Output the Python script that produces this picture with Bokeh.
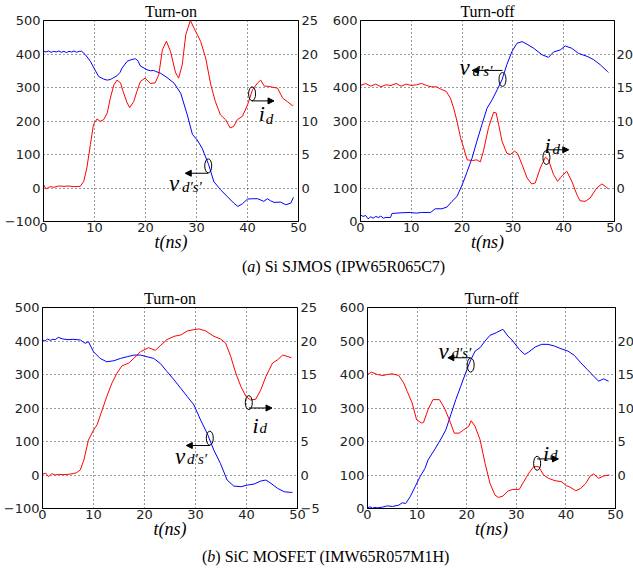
from bokeh.plotting import figure
from bokeh.models import Range1d, LinearAxis, FixedTicker, Label, Arrow, NormalHead, Div
from bokeh.layouts import column, row
from bokeh.embed import file_html
from bokeh.resources import INLINE

# ---------------- data ----------------
x_ticks = [0, 10, 20, 30, 40, 50]

# (a) Si SJMOS, turn-on
a_on_tv = [0, 0.5, 1, 1.5, 2, 2.5, 3, 3.5, 4, 4.5, 5, 5.5, 6, 6.5, 7, 7.5, 8.2, 9.2, 10, 10.8, 11.8, 12.5,
           13.1, 13.6, 14.4, 15, 15.4, 16.4, 17, 18, 18.5, 19, 20.3, 21, 21.6, 22, 22.9, 24.2, 25.6, 26.9,
           28.2, 29.2, 30.1, 31.1, 32.4, 33.4, 34.7, 36, 37.3, 38.1, 39, 40, 41, 42, 42.6, 43.2, 43.9, 44.5,
           45.2, 46.5, 47.5, 48.5, 49]
a_on_v = [408, 406, 409, 405, 408, 406, 409, 405, 408, 404, 408, 406, 409, 405, 408, 408, 398, 378, 355, 333,
          325, 322, 324, 328, 335, 345, 358, 378, 382, 386, 380, 364, 353, 350, 351, 348, 343, 330, 313, 283,
          218, 160, 144, 119, 69, 19, -5, -25, -45, -55, -47, -33, -32, -32, -36, -40, -32, -38, -43, -42,
          -50, -45, -28]
a_on_ti = [0, 0.5, 1, 1.5, 2, 3, 4, 5, 6, 7.2, 7.9, 8.5, 9.2, 9.8, 10.5, 11.1, 11.8, 12.5, 13.1, 13.8, 14.4,
           15.1, 15.7, 16.4, 16.9, 17.7, 18.3, 19, 19.9, 21, 21.9, 22.6, 23.3, 24.1, 24.9, 25.9, 26.5, 27.2,
           27.9, 28.8, 29.5, 30.8, 31.8, 32.8, 33.7, 34.7, 35.7, 36.6, 37.3, 38, 39, 40, 41, 42, 42.6, 43.3,
           43.9, 45.9, 46.9, 47.8, 48.8, 49]
a_on_i = [0.5, -0.15, 0.1, 0.2, 0.1, 0.3, 0.25, 0.3, 0.2, 0.25, 1.0, 3.0, 6.5, 9.5, 10.3, 9.95, 10.2, 11.2,
          13.4, 15.4, 16.1, 15.7, 14.2, 12.7, 12.0, 12.9, 14.4, 15.9, 16.4, 15.6, 15.7, 16.9, 20.6, 21.9,
          20.4, 17.2, 16.4, 18.4, 22.9, 25.0, 23.9, 21.9, 19.4, 15.4, 12.9, 10.9, 10.2, 8.96, 9.2, 10.2,
          10.7, 12.4, 14.7, 15.7, 16.1, 15.2, 15.2, 14.9, 13.4, 12.9, 12.3, 12.4]

# (a) Si SJMOS, turn-off
a_off_tv = [0, 0.5, 1, 1.5, 2, 2.5, 3, 3.5, 4, 4.5, 5, 5.9, 6.2, 8, 9.8, 11, 12, 13.8, 14.7, 16, 17, 18, 19,
            20, 21, 21.95, 22.9, 23.9, 24.9, 25.9, 26.9, 27.85, 28.8, 29.8, 30.8, 31.8, 32.8, 34.1, 35.7, 37,
            38, 39.3, 40.3, 41.6, 42.9, 44.6, 45.9, 47.2, 48.6, 48.8]
a_off_v = [20, 15, 18, 8, 14, 10, 15, 12, 16, 10, 12, 12, 24, 26, 27, 25, 27, 27, 38, 38, 43, 60, 75, 109,
           149, 189, 239, 289, 338, 363, 393, 423, 468, 507, 532, 537, 529, 517, 498, 490, 506, 512, 524,
           517, 502, 493, 483, 468, 448, 445]
a_off_ti = [0, 1, 2, 3, 4, 5, 6, 7, 8, 9, 10, 11, 12, 13, 14, 15, 15.7, 16.9, 17.7, 18.35, 19, 19.7, 20.3,
            21, 22, 22.9, 23.6, 24.2, 25.2, 26.2, 26.7, 27.2, 27.85, 28.8, 29.5, 30.3, 30.9, 31.8, 32.8,
            33.7, 34.4, 35.4, 36.4, 37, 38, 38.8, 39.4, 40.6, 41.6, 42.6, 43.2, 44.2, 45.2, 46.5, 47.5,
            48.2, 48.8]
a_off_i = [15.3, 15.6, 15.2, 15.5, 15.1, 15.4, 15.3, 15.6, 15.2, 15.5, 15.3, 15.4, 15.6, 15.3, 15.1, 15.1,
           14.8, 14.4, 13.4, 11.9, 9.95, 7.5, 6.0, 4.2, 4.1, 4.2, 3.9, 5.5, 9.0, 11.3, 11.2, 9.45, 7.0, 5.2,
           5.0, 5.5, 5.2, 3.5, 1.5, 0.6, 0.75, 3.0, 4.6, 4.2, 2.0, 1.0, 1.6, 2.5, 1.0, -1.0, -1.9, -2.0,
           -1.5, 0, 0.6, 0.25, -0.15]

# (b) SiC MOSFET, turn-on
b_on_tv = [0, 0.5, 1, 1.5, 2, 2.5, 3.1, 4, 5, 6, 7.4, 8.4, 9, 10, 11.3, 12.6, 14, 15.3, 16.6, 17.9, 19.2,
           20.5, 21.8, 23.1, 24.4, 25.8, 27.1, 28.4, 29.7, 31, 32.3, 33.6, 34.9, 36.2, 37.5, 38.9, 40.2,
           41.5, 42.8, 43.8, 44.8, 46.1, 47.4, 48.7, 49]
b_on_v = [403, 400, 406, 402, 405, 404, 411, 406, 404, 405, 403, 393, 398, 368, 348, 338, 341, 348, 353, 358,
          358, 353, 348, 333, 309, 284, 259, 234, 209, 164, 124, 74, 34, -15, -33, -35, -30, -27, -18, -15,
          -25, -40, -50, -52, -52]
b_on_ti = [0, 0.6, 1.2, 1.8, 2.5, 3.2, 4, 5, 6, 6.7, 7.4, 8.1, 9, 10, 10.7, 11.7, 12.6, 13.6, 14.6, 15.6,
           16.9, 17.9, 19.2, 20.8, 22.1, 23.1, 24.4, 25.8, 27.1, 28.4, 29.7, 30.7, 32, 33.6, 34.9, 35.9,
           36.9, 37.9, 38.9, 39.9, 40.8, 41.8, 42.8, 43.8, 45.1, 46.1, 47.1, 48, 48.8]
b_on_i = [0.1, 0.3, -0.25, 0.2, 0, 0.1, 0.05, 0.1, 0.2, 0.35, 0.75, 2.2, 5.2, 6.7, 7.5, 9.7, 11.7, 13.7,
          15.2, 16.3, 16.7, 17.4, 18.4, 19.0, 18.6, 19.3, 20.2, 20.7, 20.9, 21.5, 21.7, 21.8, 21.5, 20.7,
          20.3, 19.7, 17.7, 15.2, 13.2, 11.7, 11.2, 11.3, 12.7, 14.7, 16.7, 17.2, 17.9, 17.7, 17.5]

# (b) SiC MOSFET, turn-off
b_off_tv = [0, 0.5, 1, 1.5, 2, 3, 4, 5, 6.3, 7, 7.7, 8.6, 9.6, 10.6, 11.6, 12.2, 13.5, 14.9, 15.8, 16.8,
            17.8, 18.8, 19.8, 20.7, 21.7, 22.7, 23.7, 24.7, 26, 27.3, 28.3, 29.3, 30.6, 31.7, 32.5, 33.8,
            35.1, 36.4, 37.7, 39, 40.4, 41.7, 43, 44.3, 45.6, 46.6, 47.6, 48.6]
b_off_v = [2, 5, 1, 3, 2, 4, 8, 6, 10, 17, 15, 35, 65, 95, 120, 145, 175, 210, 235, 280, 325, 365, 405, 440,
           470, 480, 500, 517, 525, 535, 515, 500, 475, 460, 467, 482, 490, 490, 485, 477, 470, 457, 435,
           415, 395, 380, 387, 380]
b_off_ti = [0, 0.8, 2, 3.1, 4, 5, 6.3, 7.3, 8, 9, 9.9, 10.9, 11.3, 12.2, 13.2, 14.5, 15.5, 16.5, 17.5, 18.5,
            19.4, 20.4, 20.9, 21.7, 22.7, 23.7, 24.7, 25.7, 26.4, 27.3, 28.3, 29.3, 30.6, 31.5, 32.5, 33.5,
            34.5, 35.5, 36.5, 37.8, 39.1, 40.1, 40.7, 42, 43, 44, 44.9, 45.6, 46.6, 47.6, 48.8]
b_off_i = [15.0, 15.35, 15.0, 14.85, 15.0, 15.1, 14.85, 13.75, 12.5, 10.75, 8.25, 7.75, 7.85, 9.75, 11.25,
           11.25, 10.0, 8.25, 6.25, 6.25, 6.75, 7.25, 8.1, 7.25, 5.25, 1.75, -1.25, -3.0, -3.35, -3.15,
           -2.4, -2.15, -2.15, -1.0, 0.25, 1.25, 1.25, 0, -0.5, -0.85, -1.0, -1.6, -1.75, -2.35, -2.0,
           -1.25, -0.15, 0.15, -0.5, -0.15, 0]

# annotation anchors (t, value): ellipse, arrow start/end, label
a_on_ann = dict(v_ell=(32.3, 66), v_arr=(32.3, 44, 27.8, 44), v_lab=(24.6, 13), v_sub=(13, -3),
                i_ell=(40.9, 14.05), i_arr=(40.9, 13.0, 45.2, 13.0), i_lab=(42.2, 11.1), i_sub=(7, -5))
a_off_ann = dict(v_ell=(27.95, 424), v_arr=(27.95, 451, 22.0, 451), v_lab=(19.5, 460), v_sub=(13, -4),
                 i_ell=(36.6, 4.55), i_arr=(36.6, 5.7, 41.0, 5.7), i_lab=(36.2, 6.3), i_sub=(8, -3))
b_on_ann = dict(v_ell=(32.8, 110), v_arr=(32.8, 88, 28.2, 88), v_lab=(26.0, 55), v_sub=(12, -2),
                i_ell=(40.45, 10.8), i_arr=(40.45, 10.0, 45.0, 10.0), i_lab=(41.2, 7.35), i_sub=(7, -2))
b_off_ann = dict(v_ell=(20.8, 428), v_arr=(20.8, 450, 16.2, 450), v_lab=(14.3, 470), v_sub=(13, -2),
                 i_ell=(34.2, 1.75), i_arr=(34.2, 2.4, 38.5, 2.4), i_lab=(35.4, 3.25), i_sub=(7, -2))

TICK_FONT = "DejaVu Sans"
SERIF = "Liberation Serif"


def panel(title, tv, vv, ti, ii, vr, vticks, ir, iticks, ann, lb, rb, tb, bb, fw, fh=201, rstand=3):
    p = figure(frame_width=fw, frame_height=fh, x_range=Range1d(0, 50), y_range=Range1d(*vr),
               output_backend="svg", toolbar_location=None, min_border_left=lb, min_border_right=rb,
               min_border_top=tb, min_border_bottom=bb, title=title)
    p.extra_y_ranges = {"i": Range1d(*ir)}
    p.background_fill_color = "white"
    p.border_fill_color = "white"
    p.outline_line_color = "black"
    p.outline_line_width = 1

    p.title.text_font = SERIF
    p.title.text_font_size = "16px"
    p.title.text_font_style = "normal"
    p.title.align = "center"
    p.title.standoff = 1
    p.title.text_color = "black"

    right = LinearAxis(y_range_name="i", ticker=FixedTicker(ticks=iticks))
    p.add_layout(right, "right")
    p.xaxis.ticker = FixedTicker(ticks=x_ticks)
    p.yaxis[0].ticker = FixedTicker(ticks=vticks)
    for ax in [p.xaxis[0], p.yaxis[0], right]:
        ax.major_label_text_font = TICK_FONT
        ax.major_label_text_font_size = "13px"
        ax.major_label_text_color = "#222222"
        ax.major_tick_line_color = None
        ax.minor_tick_line_color = None
        ax.major_tick_out = 0
        ax.major_tick_in = 0
        ax.axis_line_color = "black"
    p.yaxis[0].major_label_standoff = 3
    right.major_label_standoff = rstand
    p.xaxis.major_label_standoff = 1
    p.xaxis.axis_label = "t(ns)"
    p.xaxis.axis_label_text_font = SERIF
    p.xaxis.axis_label_text_font_style = "italic"
    p.xaxis.axis_label_text_font_size = "18px"
    p.xaxis.axis_label_standoff = -3
    p.xaxis.axis_label_text_color = "black"

    p.xgrid.ticker = FixedTicker(ticks=[10, 20, 30, 40])
    p.ygrid.ticker = FixedTicker(ticks=vticks)
    for g in [p.xgrid, p.ygrid]:
        g.grid_line_color = "black"
        g.grid_line_dash = "1 3"
        g.grid_line_width = 1
        g.grid_line_alpha = 0.8

    p.line(tv, vv, line_color="#0000ff", line_width=1)
    p.line(ti, ii, line_color="#ff0000", line_width=1, y_range_name="i")

    # annotations
    p.ellipse(x=[ann["v_ell"][0]], y=[ann["v_ell"][1]], width=7, height=14, width_units="screen",
              height_units="screen", fill_alpha=0, line_color="black", line_width=1)
    p.ellipse(x=[ann["i_ell"][0]], y=[ann["i_ell"][1]], width=7, height=14, width_units="screen",
              height_units="screen", fill_alpha=0, line_color="black", line_width=1, y_range_name="i")
    x0, y0, x1, y1 = ann["v_arr"]
    p.add_layout(Arrow(end=NormalHead(size=6, fill_color="black", line_color="black"),
                       x_start=x0, y_start=y0, x_end=x1, y_end=y1, line_color="black", line_width=1))
    x0, y0, x1, y1 = ann["i_arr"]
    p.add_layout(Arrow(end=NormalHead(size=6, fill_color="black", line_color="black"),
                       x_start=x0, y_start=y0, x_end=x1, y_end=y1, line_color="black", line_width=1,
                       y_range_name="i"))
    lx, ly = ann["v_lab"]
    sx, sy = ann["v_sub"]
    p.add_layout(Label(x=lx, y=ly, text="v", text_font=SERIF, text_font_style="italic",
                       text_font_size="23px", text_baseline="alphabetic", text_color="black"))
    p.add_layout(Label(x=lx, y=ly, x_offset=sx, y_offset=sy, text="d\u2032s\u2032", text_font=SERIF,
                       text_font_style="italic", text_font_size="15px", text_baseline="alphabetic",
                       text_color="black"))
    lx, ly = ann["i_lab"]
    sx, sy = ann["i_sub"]
    p.add_layout(Label(x=lx, y=ly, text="i", text_font=SERIF, text_font_style="italic",
                       text_font_size="22px", text_baseline="alphabetic", text_color="black",
                       y_range_name="i"))
    p.add_layout(Label(x=lx, y=ly, x_offset=sx, y_offset=sy, text="d", text_font=SERIF,
                       text_font_style="italic", text_font_size="15px", text_baseline="alphabetic",
                       text_color="black", y_range_name="i"))
    return p


p1 = panel("Turn-on", a_on_tv, a_on_v, a_on_ti, a_on_i, (-100, 500), [-100, 0, 100, 200, 300, 400, 500],
           (-5, 25), [0, 5, 10, 15, 20, 25], a_on_ann, lb=43, rb=22, tb=19, bb=36, fw=255)
p2 = panel("Turn-off", a_off_tv, a_off_v, a_off_ti, a_off_i, (0, 600), [0, 100, 200, 300, 400, 500, 600],
           (-5, 25), [0, 5, 10, 15, 20], a_off_ann, lb=39, rb=19, tb=19, bb=36, fw=254, rstand=2)
p3 = panel("Turn-on", b_on_tv, b_on_v, b_on_ti, b_on_i, (-100, 500), [-100, 0, 100, 200, 300, 400, 500],
           (-5, 25), [-5, 0, 5, 10, 15, 20, 25], b_on_ann, lb=42, rb=22, tb=30, bb=36, fw=255)
p4 = panel("Turn-off", b_off_tv, b_off_v, b_off_ti, b_off_i, (0, 600), [0, 100, 200, 300, 400, 500, 600],
           (-5, 25), [0, 5, 10, 15, 20], b_off_ann, lb=45, rb=19, tb=30, bb=36, fw=248, rstand=2)

cap_style = "font-family:'Liberation Serif'; font-size:16px; color:black; white-space:nowrap;"
d1 = Div(text=f'<div style="margin-left:242px; line-height:20px; {cap_style}">(<i>a</i>) Si SJMOS (IPW65R065C7)</div>',
         width=633, height=20, margin=0)
d2 = Div(text=f'<div style="margin-left:202px; line-height:26px; {cap_style}">(<i>b</i>) SiC MOSFET (IMW65R057M1H)</div>',
         width=633, height=26, margin=0)

layout = column(row(p1, p2, spacing=0), d1, row(p3, p4, spacing=0), d2, spacing=0)
open("out.html", "w").write(file_html(layout, INLINE))
